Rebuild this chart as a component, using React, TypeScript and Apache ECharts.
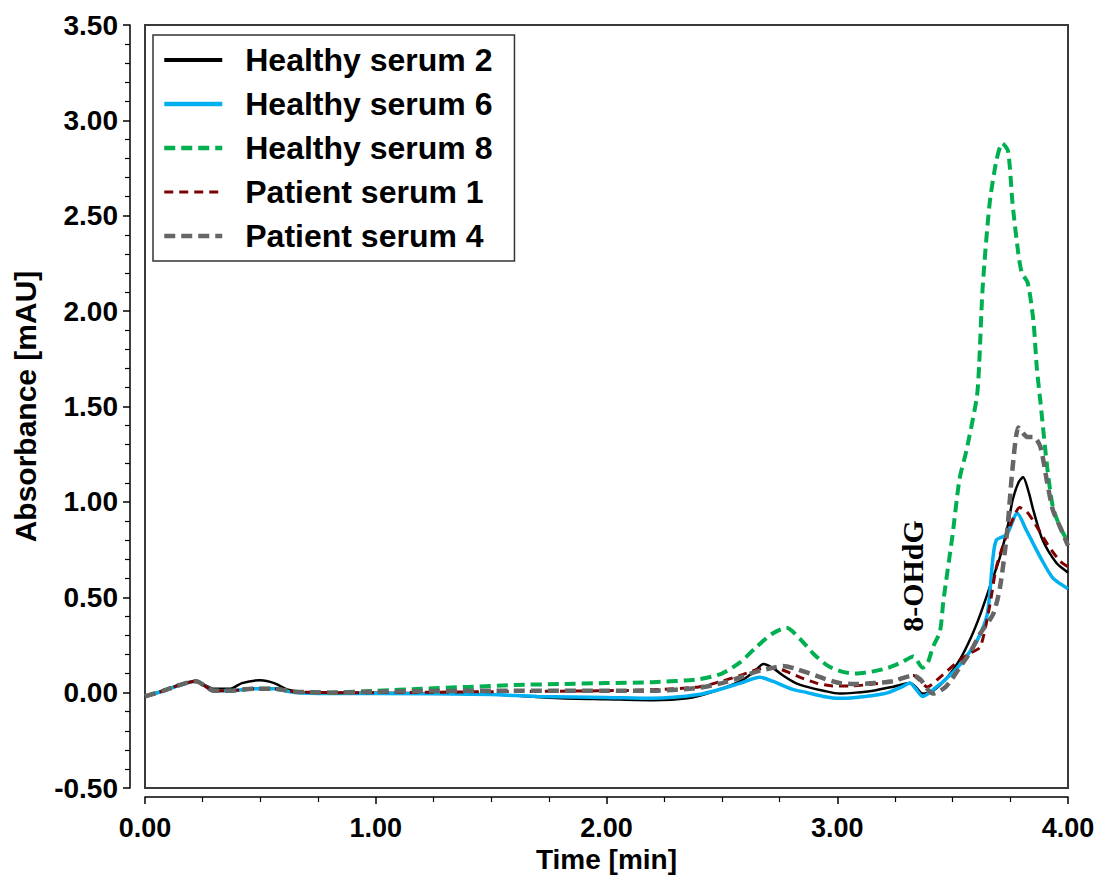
import React, { useEffect, useRef } from "react";
import * as echarts from "echarts";

// ---------- data ----------
const seriesNames = ["Healthy serum 2", "Healthy serum 6", "Healthy serum 8", "Patient serum 1", "Patient serum 4"];

const tHS2 = [0, 0.08, 0.15, 0.22, 0.3, 0.37, 0.42, 0.5, 0.56, 0.62, 0.7, 0.8, 1.0, 1.5, 1.8, 2.0, 2.2, 2.35, 2.45, 2.58, 2.64, 2.68, 2.72, 2.765, 2.82, 2.87, 2.94, 3.01, 3.08, 3.155, 3.24, 3.315, 3.34, 3.37, 3.415, 3.47, 3.53, 3.58, 3.62, 3.66, 3.705, 3.74, 3.76, 3.785, 3.805, 3.83, 3.85, 3.89, 3.95, 4.0];
const vHS2 = [-0.02, 0.01, 0.04, 0.06, 0.02, 0.02, 0.05, 0.065, 0.05, 0.015, 0.0, 0.0, 0.0, -0.01, -0.03, -0.035, -0.04, -0.03, 0.0, 0.06, 0.11, 0.15, 0.13, 0.09, 0.05, 0.03, 0.01, -0.005, 0.0, 0.01, 0.03, 0.05, 0.03, -0.005, 0.01, 0.07, 0.17, 0.29, 0.41, 0.55, 0.71, 0.88, 1.01, 1.1, 1.13, 1.05, 0.955, 0.8, 0.68, 0.63];

const tHS6 = [0, 0.08, 0.15, 0.22, 0.3, 0.37, 0.47, 0.56, 0.65, 0.8, 1.0, 1.5, 1.7, 2.0, 2.2, 2.4, 2.5, 2.58, 2.665, 2.72, 2.8, 2.87, 2.94, 3.01, 3.08, 3.155, 3.22, 3.28, 3.315, 3.34, 3.37, 3.43, 3.47, 3.52, 3.56, 3.605, 3.65, 3.675, 3.69, 3.735, 3.78, 3.82, 3.85, 3.88, 3.935, 4.0];
const vHS6 = [-0.02, 0.01, 0.04, 0.06, 0.01, 0.01, 0.02, 0.02, 0.0, -0.005, -0.005, -0.01, -0.02, -0.025, -0.03, -0.01, 0.02, 0.05, 0.08, 0.06, 0.02, 0.0, -0.02, -0.03, -0.025, -0.015, 0.0, 0.03, 0.05, 0.02, -0.02, 0.03, 0.07, 0.13, 0.19, 0.27, 0.41, 0.71, 0.8, 0.83, 0.94, 0.85, 0.78, 0.71, 0.6, 0.545];

const tHS8 = [0, 0.08, 0.15, 0.22, 0.3, 0.37, 0.47, 0.56, 0.65, 0.8, 1.0, 1.2, 1.4, 1.6, 1.8, 2.0, 2.2, 2.4, 2.5, 2.58, 2.65, 2.72, 2.78, 2.84, 2.9, 2.96, 3.02, 3.08, 3.15, 3.22, 3.28, 3.33, 3.37, 3.39, 3.415, 3.445, 3.46, 3.5, 3.53, 3.56, 3.605, 3.615, 3.63, 3.66, 3.69, 3.715, 3.74, 3.76, 3.785, 3.8, 3.825, 3.85, 3.865, 3.88, 3.91, 3.935, 3.965, 4.0];
const vHS8 = [-0.02, 0.01, 0.04, 0.06, 0.01, 0.01, 0.02, 0.02, 0.005, 0.0, 0.01, 0.02, 0.03, 0.04, 0.045, 0.05, 0.055, 0.07, 0.1, 0.16, 0.24, 0.31, 0.34, 0.28, 0.2, 0.14, 0.11, 0.1, 0.11, 0.13, 0.16, 0.19, 0.13, 0.15, 0.24, 0.32, 0.48, 0.83, 1.12, 1.27, 1.55, 1.72, 2.12, 2.56, 2.79, 2.88, 2.84, 2.56, 2.3, 2.2, 2.15, 1.95, 1.7, 1.53, 1.18, 0.97, 0.87, 0.79];

const tPS1 = [0, 0.08, 0.15, 0.22, 0.3, 0.37, 0.47, 0.56, 0.65, 0.8, 1.0, 1.5, 2.0, 2.2, 2.4, 2.5, 2.58, 2.65, 2.7, 2.76, 2.84, 2.91, 2.98, 3.06, 3.155, 3.24, 3.33, 3.36, 3.39, 3.445, 3.53, 3.58, 3.62, 3.66, 3.69, 3.735, 3.765, 3.79, 3.82, 3.85, 3.91, 3.965, 4.0];
const vPS1 = [-0.02, 0.01, 0.04, 0.06, 0.01, 0.01, 0.02, 0.02, 0.005, 0.0, 0.0, 0.005, 0.01, 0.015, 0.03, 0.06, 0.09, 0.12, 0.13, 0.12, 0.08, 0.05, 0.035, 0.035, 0.045, 0.06, 0.09, 0.06, 0.03, 0.08, 0.17, 0.21, 0.24, 0.45, 0.66, 0.83, 0.92, 0.97, 0.95, 0.9, 0.78, 0.69, 0.66];

const tPS4 = [0, 0.08, 0.15, 0.22, 0.3, 0.37, 0.47, 0.56, 0.65, 0.8, 1.0, 1.5, 2.0, 2.2, 2.4, 2.5, 2.58, 2.65, 2.72, 2.765, 2.82, 2.87, 2.94, 3.01, 3.08, 3.155, 3.24, 3.33, 3.36, 3.39, 3.415, 3.47, 3.53, 3.58, 3.62, 3.675, 3.705, 3.735, 3.76, 3.785, 3.805, 3.825, 3.85, 3.88, 3.91, 3.935, 3.965, 4.0];
const vPS4 = [-0.02, 0.01, 0.04, 0.06, 0.01, 0.01, 0.02, 0.02, 0.005, 0.0, 0.005, 0.01, 0.01, 0.01, 0.025, 0.05, 0.08, 0.11, 0.13, 0.14, 0.125, 0.105, 0.075, 0.05, 0.045, 0.05, 0.06, 0.09, 0.07, 0.02, -0.005, 0.03, 0.13, 0.22, 0.31, 0.41, 0.55, 0.83, 1.18, 1.39, 1.36, 1.34, 1.34, 1.29, 1.1, 0.955, 0.87, 0.77];

const xTicks = [0, 1, 2, 3, 4];
const yRange = [-0.5, 3.5];
const annotation = "8-OHdG";

const zip = (t: number[], v: number[]) => t.map((x, i) => [x, v[i]]);

const styles = [
  { color: "#000000", width: 2.5, type: "solid" as any, legendWidth: 4 },
  { color: "#00b0f0", width: 3.5, type: "solid" as any, legendWidth: 4.5 },
  { color: "#00b050", width: 4, type: [11, 6] as any, legendWidth: 4.5 },
  { color: "#7f0000", width: 3, type: [9, 6] as any, legendWidth: 3 },
  { color: "#666666", width: 4.5, type: [11, 6] as any, legendWidth: 4.5 },
];

const dataSets = [zip(tHS2, vHS2), zip(tHS6, vHS6), zip(tHS8, vHS8), zip(tPS1, vPS1), zip(tPS4, vPS4)];

export default function App() {
  const ref = useRef<HTMLDivElement>(null);
  useEffect(() => {
    if (!ref.current) return;
    const chart = echarts.init(ref.current, null, { renderer: "svg" });
    const axisFont = "Liberation Sans";
    chart.setOption({
      animation: false,
      backgroundColor: "#ffffff",
      grid: {
        left: 145,
        right: 31,
        top: 25,
        bottom: 94,
        show: true,
        borderColor: "#3a3a3a",
        borderWidth: 2,
        backgroundColor: "transparent",
      },
      legend: {
        orient: "vertical",
        left: 153,
        top: 35,
        padding: [9, 22, 9, 9],
        itemGap: 12,
        itemWidth: 58,
        itemHeight: 2,
        borderColor: "#333333",
        borderWidth: 1.5,
        backgroundColor: "#ffffff",
        itemStyle: { opacity: 0, borderWidth: 0 },
        textStyle: {
          fontSize: 32,
          fontWeight: "bold",
          fontFamily: axisFont,
          color: "#000000",
          padding: [0, 0, 0, 18],
        },
        data: seriesNames.map((n, i) => ({
          name: n,
          itemStyle: { opacity: 0, borderWidth: 0 },
          lineStyle: { color: styles[i].color, width: styles[i].legendWidth, type: styles[i].type },
        })),
      },
      xAxis: {
        type: "value",
        min: xTicks[0],
        max: xTicks[xTicks.length - 1],
        interval: 1,
        offset: 9,
        axisLine: { show: true, onZero: false, lineStyle: { color: "#000", width: 1.5 } },
        axisTick: { show: true, length: 7, lineStyle: { color: "#000", width: 1.5 } },
        minorTick: { show: true, splitNumber: 4, length: 5, lineStyle: { color: "#000", width: 1.2 } },
        splitLine: { show: false },
        axisLabel: {
          formatter: (v: number) => v.toFixed(2),
          fontSize: 27,
          fontWeight: "bold",
          fontFamily: axisFont,
          color: "#000",
          margin: 17,
        },
        name: "Time [min]",
        nameLocation: "middle",
        nameGap: 47,
        nameTextStyle: { fontSize: 28, fontWeight: "bold", fontFamily: axisFont, color: "#000" },
      },
      yAxis: {
        type: "value",
        min: yRange[0],
        max: yRange[1],
        interval: 0.5,
        offset: 15,
        axisLine: { show: true, onZero: false, lineStyle: { color: "#000", width: 1.5 } },
        axisTick: { show: true, length: 7, lineStyle: { color: "#000", width: 1.5 } },
        minorTick: { show: true, splitNumber: 5, length: 5, lineStyle: { color: "#000", width: 1.2 } },
        splitLine: { show: false },
        axisLabel: {
          formatter: (v: number) => v.toFixed(2),
          fontSize: 28,
          fontWeight: "bold",
          fontFamily: axisFont,
          color: "#000",
          margin: 12,
        },
        name: "Absorbance [mAU]",
        nameLocation: "middle",
        nameGap: 90,
        nameTextStyle: { fontSize: 30, fontWeight: "bold", fontFamily: axisFont, color: "#000" },
      },
      series: seriesNames.map((n, i) => ({
        name: n,
        type: "line",
        data: dataSets[i],
        symbol: "none",
        smooth: 0.25,
        lineStyle: { color: styles[i].color, width: styles[i].width, type: styles[i].type },
        itemStyle: { color: styles[i].color },
        z: 2 + i,
      })),
      graphic: [
        {
          type: "text",
          x: 912,
          y: 576,
          rotation: Math.PI / 2,
          style: {
            text: annotation,
            font: 'bold 30px "Liberation Serif"',
            textAlign: "center",
            textVerticalAlign: "middle",
            fill: "#000",
          },
          z: 10,
        },
      ],
    });
    return () => chart.dispose();
  }, []);
  return <div ref={ref} style={{ position: "absolute", left: 0, top: 0, width: 1099, height: 882 }} />;
}
